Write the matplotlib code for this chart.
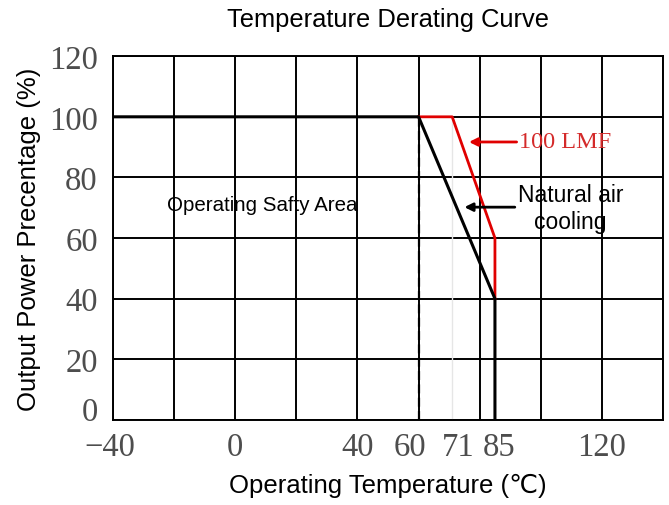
import matplotlib.pyplot as plt
from matplotlib.transforms import ScaledTranslation

# derating curves (temperature in C, output power in %)
natural_temp = [-40, 60, 85, 85]
natural_power = [100, 100, 40, 0]
lmf_temp = [60, 71, 85, 85]
lmf_power = [100, 100, 60, 40]

tick_pos = [-40, 0, 40, 60, 71, 85, 120]
y_ticks = [0, 20, 40, 60, 80, 100, 120]

sans = ["Liberation Sans", "DejaVu Sans"]

fig = plt.figure(figsize=(6.69, 5.06), dpi=100)
ax = fig.add_axes([0.169, 0.168, 0.822, 0.719])

ax.set_xlim(-40, 140)
ax.set_ylim(0, 120)

# grid every 20 units
for gx in range(-40, 141, 20):
    ax.axvline(gx, color="black", lw=1.4, zorder=1)
for gy in range(0, 121, 20):
    ax.axhline(gy, color="black", lw=1.4, zorder=1)

ax.plot([71, 71], [0, 100], color="#e6e6e6", lw=1, zorder=1.5)
ax.plot([60, 60], [0, 100], color="black", lw=1.6, ls=(0, (4, 2)), zorder=2)

ax.plot(lmf_temp, lmf_power, color="#e00000", lw=2, zorder=3)
ax.plot(natural_temp, natural_power, color="black", lw=2.2, zorder=4)

ax.set_xticks(tick_pos)
ax.set_xticklabels([str(t).replace("-", "\u2212") for t in tick_pos])
ax.set_yticks(y_ticks)
ax.tick_params(axis="x", length=0, pad=8)
ax.tick_params(axis="y", length=0, pad=11)
ax.tick_params(labelsize=23.5, labelcolor="#4d4d4d")
for lab in ax.get_xticklabels() + ax.get_yticklabels():
    lab.set_family("Liberation Serif")

# nudge crowded labels apart the way the original does (pixels)
def nudge(lab, dx, dy):
    lab.set_transform(lab.get_transform() + ScaledTranslation(dx / 100, dy / 100, fig.dpi_scale_trans))

xl = ax.get_xticklabels()
nudge(xl[0], -3, 0)
nudge(xl[3], -9, 0)
nudge(xl[4], 6, 0)
nudge(xl[5], 4, 0)
nudge(ax.get_yticklabels()[0], 0, 12)

for sp in ax.spines.values():
    sp.set_linewidth(1.4)

ax.set_xlabel("Operating Temperature (\u2103)", family=sans, fontsize=18.5, labelpad=8)
ax.set_ylabel("Output Power Precentage (%)", family=sans, fontsize=18.5, labelpad=6)
ax.set_title("Temperature Derating Curve", family=sans, fontsize=18.4, pad=22)

ax.text(-22.3, 71.2, "Operating Safty Area", family=sans, fontsize=14.8,
        va="center", ha="left", zorder=5)

ax.annotate("100 LMF", xy=(76.5, 91.7), xytext=(93, 91.7),
            color="#d42a2a", family="Liberation Serif", fontsize=17.5,
            va="center", ha="left",
            arrowprops=dict(arrowstyle="-|>", color="#e00000", lw=2,
                            mutation_scale=12, shrinkA=0, shrinkB=0))
ax.annotate("", xy=(75, 70.2), xytext=(91.5, 70.2),
            arrowprops=dict(arrowstyle="-|>", color="black", lw=2,
                            mutation_scale=12, shrinkA=0, shrinkB=0))
ax.text(109.8, 69.9, "Natural air\ncooling", family=sans, fontsize=16.5,
        ha="center", va="center", linespacing=1.2, zorder=5)

fig.savefig("out.png", dpi=100)
